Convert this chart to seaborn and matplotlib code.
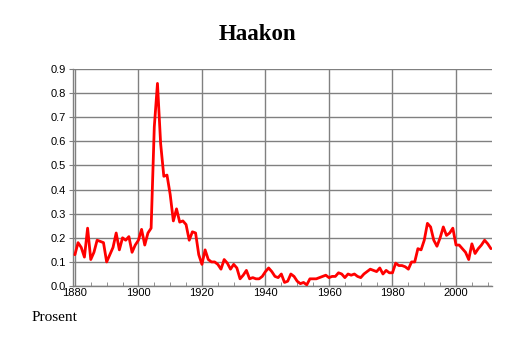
import matplotlib
matplotlib.use("Agg")
import matplotlib.pyplot as plt
import seaborn as sns
import pandas as pd
import numpy as np
from matplotlib.ticker import MultipleLocator

years = list(range(1880, 2012))
values = [
    0.13, 0.18, 0.16, 0.12, 0.24, 0.11, 0.14, 0.19, 0.185, 0.18,   # 1880-1889
    0.10, 0.13, 0.16, 0.22, 0.15, 0.20, 0.19, 0.205, 0.14, 0.17,  # 1890-1899
    0.19, 0.235, 0.17, 0.22, 0.24, 0.66, 0.84, 0.59, 0.455, 0.46, # 1900-1909
    0.38, 0.27, 0.32, 0.265, 0.27, 0.255, 0.19, 0.225, 0.22, 0.13, # 1910-1919
    0.09, 0.15, 0.11, 0.10, 0.10, 0.09, 0.07, 0.11, 0.095, 0.07,  # 1920-1929
    0.09, 0.075, 0.03, 0.045, 0.065, 0.03, 0.035, 0.03, 0.03, 0.04, # 1930-1939
    0.06, 0.075, 0.06, 0.04, 0.035, 0.05, 0.015, 0.02, 0.05, 0.04, # 1940-1949
    0.02, 0.01, 0.015, 0.005, 0.03, 0.03, 0.03, 0.035, 0.04, 0.045, # 1950-1959
    0.035, 0.04, 0.04, 0.055, 0.05, 0.035, 0.05, 0.045, 0.05, 0.04, # 1960-1969
    0.035, 0.05, 0.06, 0.07, 0.065, 0.06, 0.075, 0.05, 0.065, 0.055, # 1970-1979
    0.055, 0.095, 0.085, 0.085, 0.08, 0.07, 0.10, 0.10, 0.155, 0.15, # 1980-1989
    0.19, 0.26, 0.245, 0.19, 0.165, 0.20, 0.245, 0.21, 0.22, 0.24,  # 1990-1999
    0.17, 0.17, 0.155, 0.14, 0.11, 0.175, 0.135, 0.155, 0.17, 0.19, # 2000-2009
    0.175, 0.155,                                                   # 2010-2011
]
title_text = "Haakon"
ylabel_text = "Prosent"
y_ticks = [0.0, 0.1, 0.2, 0.3, 0.4, 0.5, 0.6, 0.7, 0.8, 0.9]
x_ticks = [1880, 1900, 1920, 1940, 1960, 1980, 2000]

df = pd.DataFrame({"year": years, "value": values})

sns.set_style("white")
plt.rcParams["font.family"] = ["Liberation Sans", "DejaVu Sans"]
plt.rcParams["text.color"] = "black"
plt.rcParams["xtick.labelcolor"] = "black"
plt.rcParams["ytick.labelcolor"] = "black"

fig = plt.figure(figsize=(5.14, 3.43), dpi=100)
ax = fig.add_axes([0.142, 0.166, 0.815, 0.633])

sns.lineplot(data=df, x="year", y="value", ax=ax, color="#ff0000",
             linewidth=2.0, zorder=5)

ax.set_xlim(1879.4, 2011.3)
ax.set_ylim(0, 0.9)
ax.set_xticks(x_ticks)
ax.set_yticks(y_ticks)
ax.set_yticklabels([f"{v:.1f}" for v in y_ticks])
ax.xaxis.set_minor_locator(MultipleLocator(5))
ax.grid(True, which="major", color="#808080", linewidth=1.0)
ax.set_axisbelow(True)

for s in ["top", "right"]:
    ax.spines[s].set_visible(False)
for s in ["left", "bottom"]:
    ax.spines[s].set_color("#808080")
    ax.spines[s].set_linewidth(1.0)

ax.tick_params(axis="y", which="major", direction="out", length=3,
               color="#808080", labelsize=8, pad=2, left=True)
ax.tick_params(axis="x", which="major", direction="in", length=0,
               labelsize=8, pad=1.5, bottom=True)
ax.tick_params(axis="x", which="minor", direction="in", length=3,
               color="#808080", bottom=True)
ax.set_xlabel("")
ax.set_ylabel("")

fig.text(0.5, 0.9, title_text, ha="center", va="center", color="black",
         fontsize=16.5, fontweight="bold", family=["Liberation Serif"])
fig.text(0.062, 0.075, ylabel_text, ha="left", va="center", color="black",
         fontsize=11, family=["Liberation Serif"])

fig.savefig("out.png", dpi=100)
